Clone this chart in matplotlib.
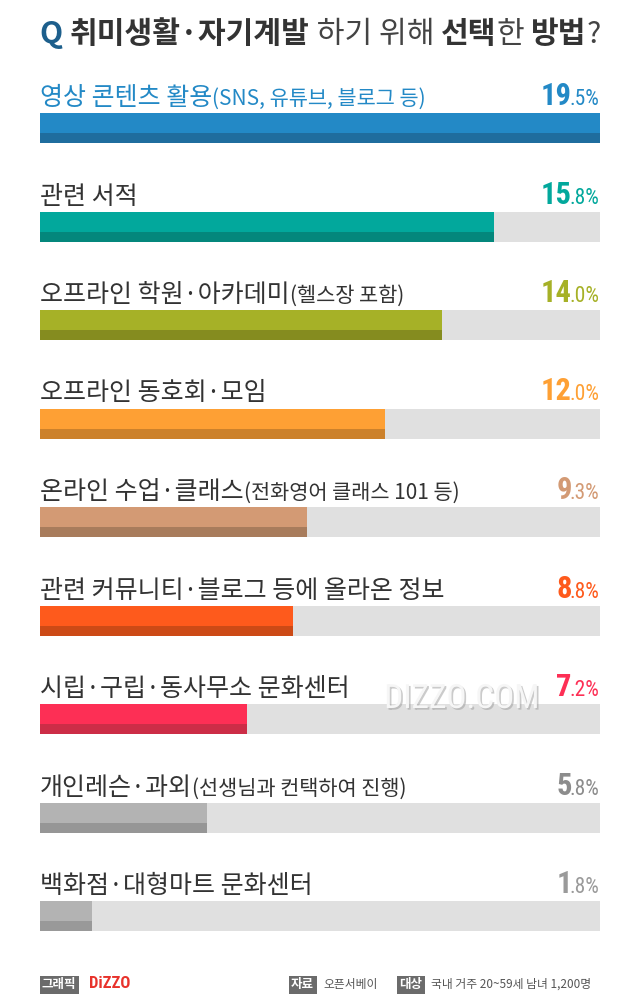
import matplotlib
matplotlib.use('Agg')
import matplotlib.pyplot as plt
import matplotlib.patheffects as pe
from matplotlib import font_manager

plt.rcParams['font.family'] = ['Noto Sans CJK KR', 'DejaVu Sans']

# 데이터
labels_main = ['영상 콘텐츠 활용', '관련 서적', '오프라인 학원·아카데미', '오프라인 동호회·모임',
               '온라인 수업·클래스', '관련 커뮤니티·블로그 등에 올라온 정보',
               '시립·구립·동사무소 문화센터', '개인레슨·과외', '백화점·대형마트 문화센터']
labels_note = ['(SNS, 유튜브, 블로그 등)', '', '(헬스장 포함)', '', '(전화영어 클래스 101 등)',
               '', '', '(선생님과 컨택하여 진행)', '']
values = [19.5, 15.8, 14.0, 12.0, 9.3, 8.8, 7.2, 5.8, 1.8]

light = ['#2389c6', '#02a89c', '#a6b127', '#fea034', '#d39a74', '#fe5a1c', '#fd2f55', '#b3b3b3', '#b3b3b3']
dark = ['#1f6d9e', '#04877c', '#858c1f', '#cc812b', '#a87c5c', '#cc4a16', '#cc2d47', '#969696', '#999999']
num_colors = ['#2389c6', '#02a89c', '#a6b127', '#fea034', '#d39a74', '#fe5a1c', '#fd2f55', '#8c8c8c', '#9a9a9a']

# 숫자용 좁은 글꼴 찾기
names = {f.name for f in font_manager.fontManager.ttflist}
narrow = 'DejaVu Sans'
for cand in ['Liberation Sans Narrow', 'Roboto Condensed', 'Roboto']:
    if cand in names:
        narrow = cand
        break

W, H = 640, 1000
fig = plt.figure(figsize=(6.4, 10), dpi=100)
fig.patch.set_facecolor('white')

row = 98.5
first_c = 128
top_px = first_c - row / 2
bot_px = first_c + 8 * row + row / 2
ax = fig.add_axes([40 / W, (H - bot_px) / H, 560 / W, (bot_px - top_px) / H])
ax.set_xlim(0, 19.5)
ax.set_ylim(8.5, -0.5)
ax.axis('off')

n = len(values)
ys = list(range(n))
h = 30 / row

ax.barh(ys, [19.5] * n, height=h, color='#e0e0e0', zorder=1)
ax.barh(ys, values, height=h, color=light, zorder=2)
ax.barh([y + h / 3 for y in ys], values, height=h / 3, color=dark, zorder=3)

lab_off = 23 / row
for i in range(n):
    c = '#2389c6' if i == 0 else '#333333'
    t = ax.text(0, i - lab_off, labels_main[i], fontsize=18, color=c, va='baseline', ha='left')
    if labels_note[i]:
        ax.annotate(labels_note[i], xy=(1, i - lab_off), xycoords=(t, 'data'),
                    fontsize=15, color=c, va='baseline', ha='left')
    s = f'{values[i]:.1f}'
    big, small = s.split('.')
    st = ax.text(19.48, i - lab_off, '.' + small + '%', fontsize=15.5, color=num_colors[i],
                 va='baseline', ha='right', family=narrow)
    ax.annotate(big, xy=(0, i - lab_off), xycoords=(st, 'data'), xytext=(1.5, 0),
                textcoords='offset points', fontsize=22, color=num_colors[i],
                va='baseline', ha='right', family=narrow, fontweight='bold')

# 제목
title_parts = [('Q ', '#1d5f8c', 'bold'), ('취미생활·자기계발', '#333333', 'bold'),
               (' 하기 위해 ', '#444444', 'normal'), ('선택', '#333333', 'bold'),
               ('한 ', '#444444', 'normal'), ('방법', '#333333', 'bold'), ('?', '#444444', 'normal')]
prev = None
ty = H - 43
for txt, col, wt in title_parts:
    if prev is None:
        prev = fig.text(40 / W, ty / H, txt, fontsize=21.7, color=col, fontweight=wt,
                        va='baseline', ha='left')
    else:
        prev = plt.annotate(txt, xy=(1, ty), xycoords=(prev, 'figure pixels'), fontsize=21.7,
                            color=col, fontweight=wt, va='baseline', ha='left',
                            annotation_clip=False)

# 워터마크
fig.text(462 / W, (H - 708) / H, 'DIZZO.COM', fontsize=24, color='#f6f6f6', ha='center',
         va='baseline', family=narrow,
         path_effects=[pe.withSimplePatchShadow(offset=(1.2, -1.2), shadow_rgbFace='#999999', alpha=0.5)])

# 하단
fy = (H - 988) / H
box = dict(boxstyle='square,pad=0.2', fc='#6b6b6b', ec='none')
fig.text(42 / W, fy, '그래픽', fontsize=9, color='white', fontweight='bold', va='baseline', bbox=box)
fig.text(89 / W, fy, 'DiZZO', fontsize=12, color='#e8322b', fontweight='bold', va='baseline', family=narrow)
fig.text(291 / W, fy, '자료', fontsize=9, color='white', fontweight='bold', va='baseline', bbox=box)
fig.text(323 / W, fy, '오픈서베이', fontsize=8.5, color='#555555', va='baseline')
fig.text(399 / W, fy, '대상', fontsize=9, color='white', fontweight='bold', va='baseline', bbox=box)
fig.text(431 / W, fy, '국내 거주 20~59세 남녀 1,200명', fontsize=8.5, color='#555555', va='baseline')

fig.savefig('out.png', dpi=100, facecolor='white')
